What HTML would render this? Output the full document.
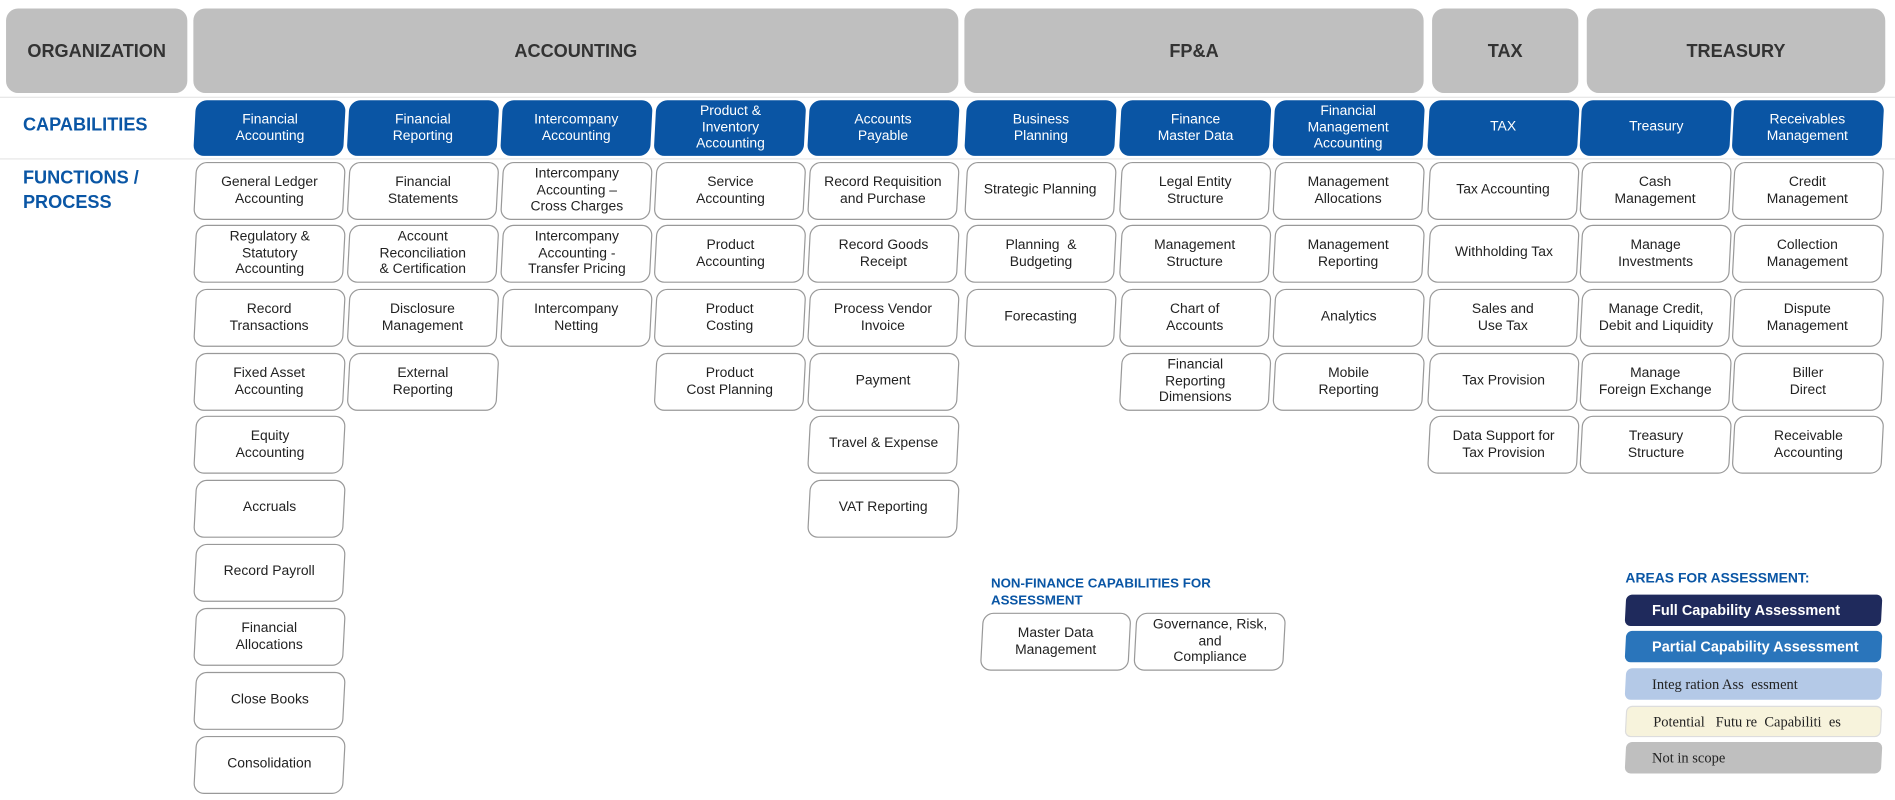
<!DOCTYPE html>
<html><head><meta charset="utf-8"><style>
html,body{margin:0;padding:0;background:#fff;width:1895px;height:800px;overflow:hidden}
#w{position:absolute;left:0;top:0;width:1568px;height:662px;transform:scale(1.2085);transform-origin:0 0;font-family:"Liberation Sans",sans-serif}
.h{position:absolute;top:7px;height:70px;background:#bfbfbf;border-radius:10px;display:flex;align-items:center;justify-content:center;font-weight:bold;font-size:15px;color:#333}
.ln{position:absolute;left:0;width:1568px;height:1px;background:#e6e6e6}
.lb{position:absolute;left:19px;color:#0a56a5;font-weight:bold;font-size:15px;line-height:20px}
.b{position:absolute;width:124px;display:flex;align-items:center;justify-content:center;text-align:center;transform:skewX(-3deg);box-sizing:border-box;border-radius:9px}
.b span{transform:skewX(3deg);display:block}
.c{top:83px;height:46px;background:#0a55a4;color:#fff;font-size:11.5px;line-height:13.5px}
.f{height:48px;background:#fff;border:1px solid #999;color:#222;font-size:11.5px;line-height:13.5px}
.lg{position:absolute;left:1345px;width:212px;height:26px;transform:skewX(-3deg);border-radius:5px;box-sizing:border-box;padding-left:22px;display:flex;align-items:center;font-size:12px}
.lg span{transform:skewX(3deg)}
</style></head><body><div id="w">
<div class="h" style="left:5px;width:150px">ORGANIZATION</div>
<div class="h" style="left:160px;width:633px">ACCOUNTING</div>
<div class="h" style="left:798px;width:380px">FP&amp;A</div>
<div class="h" style="left:1185px;width:121px">TAX</div>
<div class="h" style="left:1313px;width:247px">TREASURY</div>
<div class="ln" style="top:80px"></div>
<div class="ln" style="top:131px"></div>
<div class="lb" style="top:94px">CAPABILITIES</div>
<div class="lb" style="top:138px">FUNCTIONS /<br>PROCESS</div>

<div class="b c" style="left:161px"><span>Financial<br>Accounting</span></div>
<div class="b c" style="left:288px"><span>Financial<br>Reporting</span></div>
<div class="b c" style="left:415px"><span>Intercompany<br>Accounting</span></div>
<div class="b c" style="left:542px"><span>Product &amp;<br>Inventory<br>Accounting</span></div>
<div class="b c" style="left:669px"><span>Accounts<br>Payable</span></div>
<div class="b c" style="left:799px"><span>Business<br>Planning</span></div>
<div class="b c" style="left:927px"><span>Finance<br>Master Data</span></div>
<div class="b c" style="left:1054px"><span>Financial<br>Management<br>Accounting</span></div>
<div class="b c" style="left:1182px"><span>TAX</span></div>
<div class="b c" style="left:1308px"><span>Treasury</span></div>
<div class="b c" style="left:1434px"><span>Receivables<br>Management</span></div>

<!-- col 1 -->
<div class="b f" style="left:161px;top:134px"><span>General Ledger<br>Accounting</span></div>
<div class="b f" style="left:161px;top:186px"><span>Regulatory &amp;<br>Statutory<br>Accounting</span></div>
<div class="b f" style="left:161px;top:239px"><span>Record<br>Transactions</span></div>
<div class="b f" style="left:161px;top:292px"><span>Fixed Asset<br>Accounting</span></div>
<div class="b f" style="left:161px;top:344px"><span>Equity<br>Accounting</span></div>
<div class="b f" style="left:161px;top:397px"><span>Accruals</span></div>
<div class="b f" style="left:161px;top:450px"><span>Record Payroll</span></div>
<div class="b f" style="left:161px;top:503px"><span>Financial<br>Allocations</span></div>
<div class="b f" style="left:161px;top:556px"><span>Close Books</span></div>
<div class="b f" style="left:161px;top:609px"><span>Consolidation</span></div>
<!-- col 2 -->
<div class="b f" style="left:288px;top:134px"><span>Financial<br>Statements</span></div>
<div class="b f" style="left:288px;top:186px"><span>Account<br>Reconciliation<br>&amp; Certification</span></div>
<div class="b f" style="left:288px;top:239px"><span>Disclosure<br>Management</span></div>
<div class="b f" style="left:288px;top:292px"><span>External<br>Reporting</span></div>
<!-- col 3 -->
<div class="b f" style="left:415px;top:134px"><span>Intercompany<br>Accounting –<br>Cross Charges</span></div>
<div class="b f" style="left:415px;top:186px"><span>Intercompany<br>Accounting -<br>Transfer Pricing</span></div>
<div class="b f" style="left:415px;top:239px"><span>Intercompany<br>Netting</span></div>
<!-- col 4 -->
<div class="b f" style="left:542px;top:134px"><span>Service<br>Accounting</span></div>
<div class="b f" style="left:542px;top:186px"><span>Product<br>Accounting</span></div>
<div class="b f" style="left:542px;top:239px"><span>Product<br>Costing</span></div>
<div class="b f" style="left:542px;top:292px"><span>Product<br>Cost Planning</span></div>
<!-- col 5 -->
<div class="b f" style="left:669px;top:134px"><span>Record Requisition<br>and Purchase</span></div>
<div class="b f" style="left:669px;top:186px"><span>Record Goods<br>Receipt</span></div>
<div class="b f" style="left:669px;top:239px"><span>Process Vendor<br>Invoice</span></div>
<div class="b f" style="left:669px;top:292px"><span>Payment</span></div>
<div class="b f" style="left:669px;top:344px"><span>Travel &amp; Expense</span></div>
<div class="b f" style="left:669px;top:397px"><span>VAT Reporting</span></div>
<!-- col 6 -->
<div class="b f" style="left:799px;top:134px"><span>Strategic Planning</span></div>
<div class="b f" style="left:799px;top:186px"><span>Planning &nbsp;&amp;<br>Budgeting</span></div>
<div class="b f" style="left:799px;top:239px"><span>Forecasting</span></div>
<!-- col 7 -->
<div class="b f" style="left:927px;top:134px"><span>Legal Entity<br>Structure</span></div>
<div class="b f" style="left:927px;top:186px"><span>Management<br>Structure</span></div>
<div class="b f" style="left:927px;top:239px"><span>Chart of<br>Accounts</span></div>
<div class="b f" style="left:927px;top:292px"><span>Financial<br>Reporting<br>Dimensions</span></div>
<!-- col 8 -->
<div class="b f" style="left:1054px;top:134px"><span>Management<br>Allocations</span></div>
<div class="b f" style="left:1054px;top:186px"><span>Management<br>Reporting</span></div>
<div class="b f" style="left:1054px;top:239px"><span>Analytics</span></div>
<div class="b f" style="left:1054px;top:292px"><span>Mobile<br>Reporting</span></div>
<!-- col 9 -->
<div class="b f" style="left:1182px;top:134px"><span>Tax Accounting</span></div>
<div class="b f" style="left:1182px;top:186px"><span>Withholding Tax</span></div>
<div class="b f" style="left:1182px;top:239px"><span>Sales and<br>Use Tax</span></div>
<div class="b f" style="left:1182px;top:292px"><span>Tax Provision</span></div>
<div class="b f" style="left:1182px;top:344px"><span>Data Support for<br>Tax Provision</span></div>
<!-- col 10 -->
<div class="b f" style="left:1308px;top:134px"><span>Cash<br>Management</span></div>
<div class="b f" style="left:1308px;top:186px"><span>Manage<br>Investments</span></div>
<div class="b f" style="left:1308px;top:239px"><span>Manage Credit,<br>Debit and Liquidity</span></div>
<div class="b f" style="left:1308px;top:292px"><span>Manage<br>Foreign Exchange</span></div>
<div class="b f" style="left:1308px;top:344px"><span>Treasury<br>Structure</span></div>
<!-- col 11 -->
<div class="b f" style="left:1434px;top:134px"><span>Credit<br>Management</span></div>
<div class="b f" style="left:1434px;top:186px"><span>Collection<br>Management</span></div>
<div class="b f" style="left:1434px;top:239px"><span>Dispute<br>Management</span></div>
<div class="b f" style="left:1434px;top:292px"><span>Biller<br>Direct</span></div>
<div class="b f" style="left:1434px;top:344px"><span>Receivable<br>Accounting</span></div>

<div style="position:absolute;left:820px;top:476px;color:#0a56a5;font-weight:bold;font-size:11px;line-height:14px">NON-FINANCE CAPABILITIES FOR<br>ASSESSMENT</div>
<div class="b f" style="left:812px;top:507px;width:123px"><span>Master Data<br>Management</span></div>
<div class="b f" style="left:939px;top:507px;width:124px"><span>Governance, Risk,<br>and<br>Compliance</span></div>

<div style="position:absolute;left:1345px;top:473px;color:#0a56a5;font-weight:bold;font-size:11.5px">AREAS FOR ASSESSMENT:</div>
<div class="lg" style="top:492px;background:#1f2a5c;color:#fff;font-weight:bold"><span>Full Capability Assessment</span></div>
<div class="lg" style="top:522px;background:#2a75bb;color:#fff;font-weight:bold"><span>Partial Capability Assessment</span></div>
<div class="lg" style="top:553px;background:#b4c9e7;color:#222;font-family:'Liberation Serif',serif"><span>Integ&nbsp;ration Ass&nbsp;&nbsp;essment</span></div>
<div class="lg" style="top:584px;background:#f7f3dc;border:1px solid #ddd;color:#222;font-family:'Liberation Serif',serif"><span>Potential &nbsp; Futu re &nbsp;Capabiliti &nbsp;es</span></div>
<div class="lg" style="top:614px;background:#bfbfbf;color:#222;font-family:'Liberation Serif',serif"><span>Not in scope</span></div>
</div></body></html>
